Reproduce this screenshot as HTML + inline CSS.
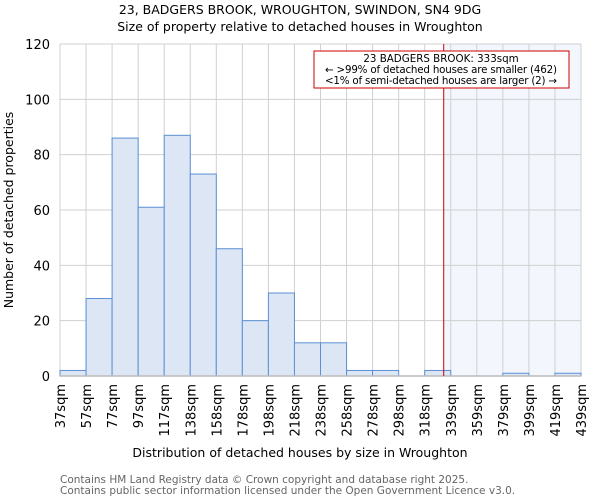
<!DOCTYPE html>
<html><head><meta charset="utf-8"><style>
body{margin:0;background:#fff;font-family:"DejaVu Sans","Liberation Sans",sans-serif}
</style></head><body>
<svg id="chart" width="600" height="500" xmlns="http://www.w3.org/2000/svg" font-family="DejaVu Sans, Liberation Sans, sans-serif">
<text x="300" y="14" text-anchor="middle" font-size="12.5">23, BADGERS BROOK, WROUGHTON, SWINDON, SN4 9DG</text>
<text x="300" y="31" text-anchor="middle" font-size="12.5">Size of property relative to detached houses in Wroughton</text>
<g id="plot"></g>
<text x="300" y="457" text-anchor="middle" font-size="12.5">Distribution of detached houses by size in Wroughton</text>
<text transform="translate(13,210) rotate(-90)" text-anchor="middle" font-size="12.5">Number of detached properties</text>
<text x="60" y="483" font-size="10.5" fill="#666">Contains HM Land Registry data © Crown copyright and database right 2025.</text>
<text x="60" y="494" font-size="10.5" fill="#666">Contains public sector information licensed under the Open Government Licence v3.0.</text>
</svg>
<script>
const categories=["37sqm","57sqm","77sqm","97sqm","117sqm","138sqm","158sqm","178sqm","198sqm","218sqm","238sqm","258sqm","278sqm","298sqm","318sqm","339sqm","359sqm","379sqm","399sqm","419sqm","439sqm"];
const counts=[2,28,86,61,87,73,46,20,30,12,12,2,2,0,2,0,0,1,0,1];
const yTicks=[0,20,40,60,80,100,120];
const markerValue=14.73;
const NS="http://www.w3.org/2000/svg";
const g=document.getElementById('plot');
const L=60,R=581,T=44,B=376,yMax=120;
const bw=(R-L)/counts.length;
const x=i=>L+i*bw;
const y=v=>B-(v/yMax)*(B-T);
function mk(t,a,p){const e=document.createElementNS(NS,t);for(const k in a)e.setAttribute(k,a[k]);(p||g).appendChild(e);return e;}
let e;
e=mk('rect',{x:x(markerValue),y:T,width:R-x(markerValue),height:B-T,fill:'#f3f6fc'});


for(let i=0;i<=counts.length;i++){e=mk('line',{x1:x(i),x2:x(i),y1:T,y2:B,stroke:'#d0d0d0','stroke-width':1});

}
yTicks.forEach(v=>{e=mk('line',{x1:L,x2:R,y1:y(v),y2:y(v),stroke:'#d0d0d0','stroke-width':1});


e=mk('text',{x:L-10,y:y(v)+5,'text-anchor':'end','font-size':13});e.textContent=v;

});
counts.forEach((c,i)=>{if(c<=0)return;e=mk('rect',{x:x(i),y:y(c),width:bw,height:B-y(c),fill:'#dce6f4',stroke:'#5b8fd6','stroke-width':1});

});
categories.forEach((c,i)=>{e=mk('text',{transform:`translate(${x(i)+5},384) rotate(-90)`,'text-anchor':'end','font-size':13});e.textContent=c;

});
e=mk('line',{x1:L,x2:R,y1:B,y2:B,stroke:'#bbb','stroke-width':1.5});


e=mk('line',{x1:x(markerValue),x2:x(markerValue),y1:T,y2:B,stroke:'#cc0000','stroke-width':1});


e=mk('rect',{x:314,y:51,width:255,height:37,fill:'#fff',stroke:'#cc0000','stroke-width':1});


["23 BADGERS BROOK: 333sqm","← >99% of detached houses are smaller (462)","<1% of semi-detached houses are larger (2) →"].forEach((t,i)=>{e=mk('text',{x:441,y:62+i*11,'text-anchor':'middle','font-size':10.3,textLength:i?232:0});if(!i)e.removeAttribute('textLength');e.textContent=t;

});
</script>
</body></html>
